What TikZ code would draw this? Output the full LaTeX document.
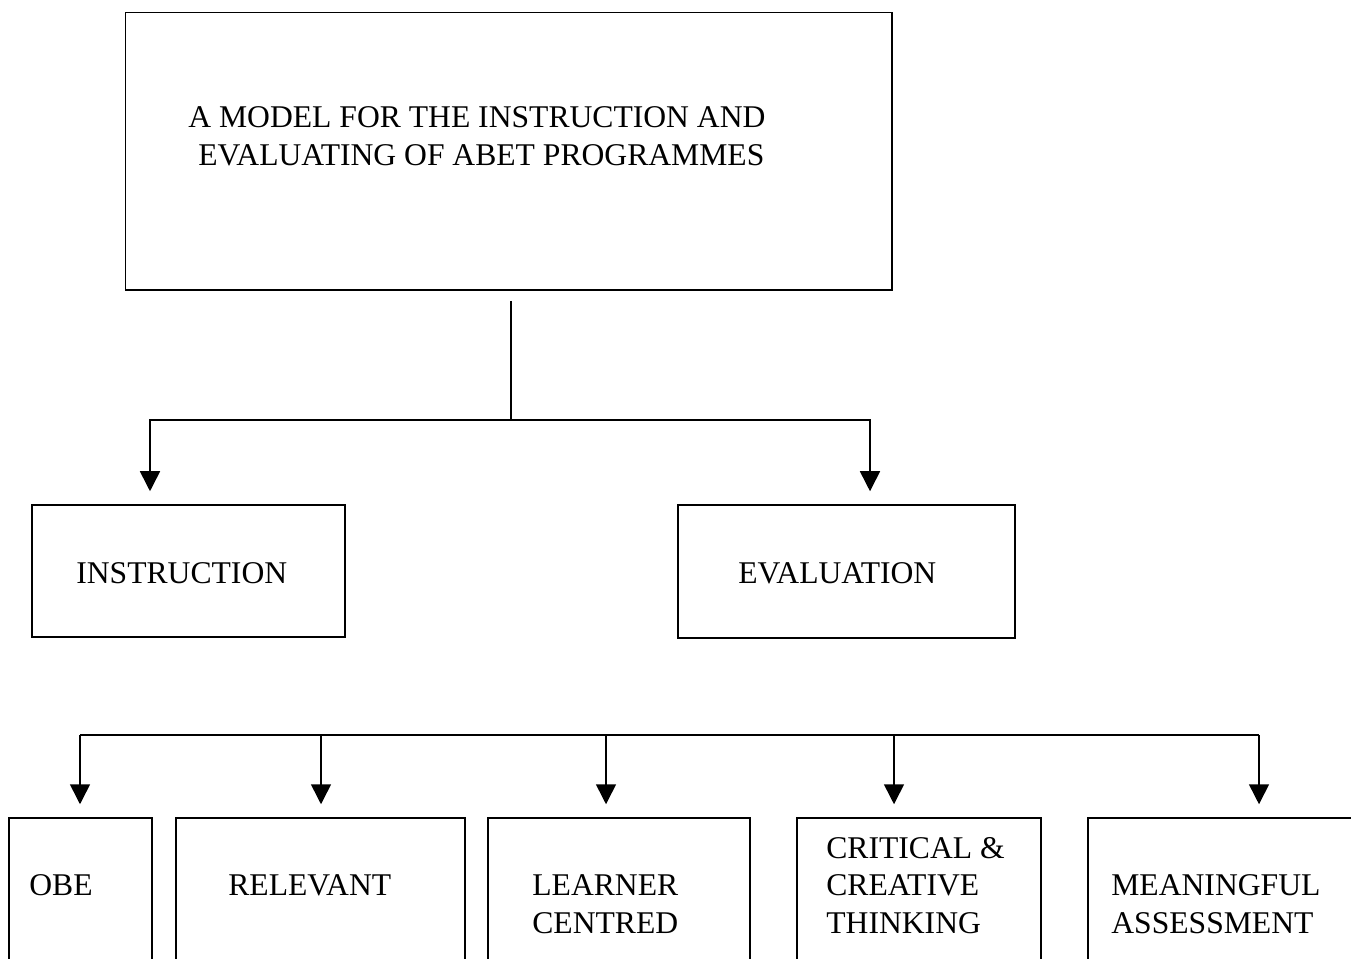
\documentclass[tikz,border=0pt]{standalone}
\usepackage{fontspec}
\setmainfont{Liberation Serif}
\usetikzlibrary{arrows.meta}

\tikzset{
  box/.style={draw, line width=0.9pt, inner sep=0pt},
  boxtext/.style={anchor=base west, inner sep=0pt, align=left,
    font=\fontsize{18}{21.3}\selectfont},
  link/.style={line width=0.9pt},
  down/.style={line width=0.9pt, shorten >=0.26cm,
    -{Triangle[length=4mm,width=4mm]}},
}

\begin{document}
\begin{tikzpicture}[%
      x=0.02cm, y=-0.02cm,
      ]
      \clip (0,0) rectangle (1351,958);

      % boxes
      \node [box, minimum width=15.33cm, minimum height=5.55cm] (model) at (508.75,151.25) {};
      \node [box, minimum width=6.26cm, minimum height=2.64cm] (instr) at (188.5,571) {};
      \node [box, minimum width=6.74cm, minimum height=2.66cm] (eval) at (846.5,571.5) {};
      \node [box, minimum width=2.86cm, minimum height=3.64cm] (obe) at (80.5,909) {};
      \node [box, minimum width=5.78cm, minimum height=3.64cm] (rel) at (320.5,909) {};
      \node [box, minimum width=5.24cm, minimum height=3.64cm] (lrn) at (619,909) {};
      \node [box, minimum width=4.88cm, minimum height=3.64cm] (crit) at (919,909) {};
      \node [box, minimum width=5.84cm, minimum height=3.64cm] (mean) at (1234,909) {};

      % texts (multi-line ones sit on their last baseline)
      \node [boxtext] (modeltext) at (188,165) {A MODEL FOR THE INSTRUCTION AND\\\hspace*{0.2cm}EVALUATING OF ABET PROGRAMMES};
      \node [boxtext] (instrtext) at (76,583) {INSTRUCTION};
      \node [boxtext] (evaltext) at (738,583) {EVALUATION};
      \node [boxtext] (obetext) at (29,895) {OBE};
      \node [boxtext] (reltext) at (228,895) {RELEVANT};
      \node [boxtext] (lrntext) at (532,933) {LEARNER\\CENTRED};
      \node [boxtext] (crittext) at (826,933) {CRITICAL \&\\CREATIVE\\THINKING};
      \node [boxtext] (meantext) at (1111,933) {MEANINGFUL\\ASSESSMENT};

      % connectors
      \coordinate (split) at (511,420);
      \draw [link, shorten <=0.2cm] (511,0 |- model.south) -- (split);
      \draw [down] (split) -| (150,0 |- instr.north);
      \draw [down] (split) -| (870,0 |- eval.north);

      \coordinate (rowleft) at (80,735);
      \coordinate (rowright) at (1259,735);
      \draw [link] (rowleft) -- (rowright);
      \foreach \x/\n in {80/obe, 321/rel, 606/lrn, 894/crit, 1259/mean}
        \draw [down] (\x,735) -- (\x,0 |- \n.north);
      \end{tikzpicture}
\end{document}
